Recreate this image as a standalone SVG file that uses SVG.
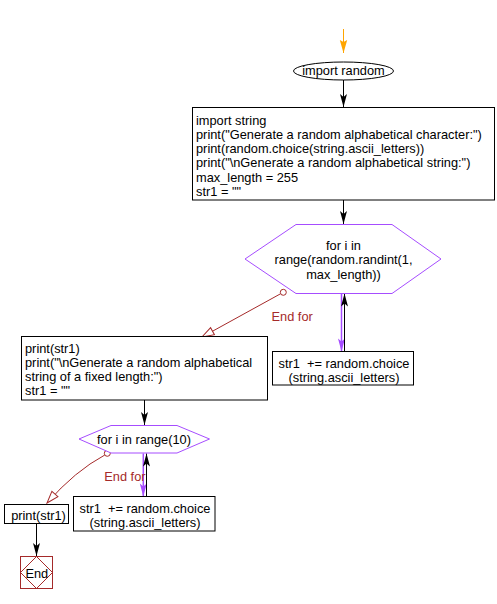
<svg xmlns="http://www.w3.org/2000/svg" width="497" height="604" viewBox="0 0 497 604">
<style>
text{font-family:"Liberation Sans",Arial,sans-serif;font-size:12.8px;fill:#000;white-space:pre}
.c{text-anchor:middle}
.box{fill:#fff;stroke:#000;stroke-width:1}
.hex{fill:#fff;stroke:#a64dff;stroke-width:1}
.ln{fill:none;stroke:#000;stroke-width:1}
.pl{fill:none;stroke:#a64dff;stroke-width:1.5}
.rl{fill:none;stroke:#a52a2a;stroke-width:1}
.lbl{fill:#a52a2a}
</style>
<defs>
<marker id="ab" markerUnits="userSpaceOnUse" markerWidth="16" markerHeight="12" refX="14" refY="6" orient="auto"><path d="M14,6 L1,2.5 L4,6 L1,9.5 Z" fill="#000"/></marker>
<marker id="ap" markerUnits="userSpaceOnUse" markerWidth="16" markerHeight="12" refX="14" refY="6" orient="auto"><path d="M14,6 L1,2.5 L4,6 L1,9.5 Z" fill="#a64dff"/></marker>
<marker id="ao" markerUnits="userSpaceOnUse" markerWidth="16" markerHeight="12" refX="14" refY="6" orient="auto"><path d="M14,6 L1,2.3 L3,6 L1,9.7 Z" fill="#ffa500"/></marker>
<marker id="ar" markerUnits="userSpaceOnUse" markerWidth="16" markerHeight="12" refX="14" refY="6" orient="auto"><path d="M14,6 L2,2 L2,10 Z" fill="#fff" stroke="#a52a2a" stroke-width="1"/></marker>
</defs>
<g id="connectors">
<line x1="343.5" y1="29" x2="343.5" y2="53" stroke="#ffa500" stroke-width="1" marker-end="url(#ao)"/>
<line class="ln" x1="343.5" y1="80" x2="343.5" y2="107" marker-end="url(#ab)"/>
<line class="ln" x1="343.5" y1="200" x2="343.5" y2="224" marker-end="url(#ab)"/>
<line class="pl" x1="341.5" y1="294" x2="341.5" y2="351.5" marker-end="url(#ap)"/>
<line class="ln" x1="344.5" y1="351.5" x2="344.5" y2="293.5" marker-end="url(#ab)"/>
<line class="rl" x1="280.5" y1="293.8" x2="202" y2="337" marker-end="url(#ar)"/>
<circle cx="283.3" cy="292.3" r="3" fill="#fff" stroke="#a52a2a" stroke-width="1"/>
<text class="lbl" x="271.5" y="320.5">End for</text>
<line class="ln" x1="144.5" y1="400" x2="144.5" y2="425" marker-end="url(#ab)"/>
<line class="pl" x1="143.3" y1="453.5" x2="143.3" y2="496.5" marker-end="url(#ap)"/>
<line class="ln" x1="146.5" y1="496.5" x2="146.5" y2="453.5" marker-end="url(#ab)"/>
<path class="rl" d="M104.8,455 Q75,471 47,503" marker-end="url(#ar)"/>
<circle cx="107.3" cy="453.3" r="3" fill="#fff" stroke="#a52a2a" stroke-width="1"/>
<text class="lbl" x="104.3" y="481">End for</text>
<line class="ln" x1="36.5" y1="523.5" x2="36.5" y2="556" marker-end="url(#ab)"/>
</g>
<g id="start">
<ellipse cx="343.5" cy="71" rx="50" ry="9" fill="#fff" stroke="#000" stroke-width="1"/>
<text class="c" x="343.5" y="75.3">import random</text>
</g>
<g id="init">
<rect class="box" x="192.5" y="107.5" width="302" height="92.5"/>
<text x="196" y="124.5">import string</text>
<text x="196" y="138.8">print("Generate a random alphabetical character:")</text>
<text x="196" y="153.1">print(random.choice(string.ascii_letters))</text>
<text x="196" y="167.4">print("\nGenerate a random alphabetical string:")</text>
<text x="196" y="181.6">max_length = 255</text>
<text x="196" y="195.8">str1 = ""</text>
</g>
<g id="loop1">
<polygon class="hex" points="245,259 296,224.5 392,224.5 441,259 392,293.5 296,293.5"/>
<text class="c" x="343.5" y="249.5">for i in</text>
<text class="c" x="343.5" y="264.3">range(random.randint(1,</text>
<text class="c" x="343.5" y="279">max_length))</text>
</g>
<g id="body1">
<rect class="box" x="272.5" y="351.5" width="141" height="33.5"/>
<text class="c" x="344" y="367.7">str1  += random.choice</text>
<text class="c" x="344" y="381.7">(string.ascii_letters)</text>
</g>
<g id="print1">
<rect class="box" x="21.5" y="336.5" width="246" height="63.5"/>
<text x="25" y="353.3">print(str1)</text>
<text x="25" y="367.3">print("\nGenerate a random alphabetical</text>
<text x="25" y="381.3">string of a fixed length:")</text>
<text x="25" y="395.3">str1 = ""</text>
</g>
<g id="loop2">
<polygon class="hex" points="79,439 111,425.5 177,425.5 209.5,439 177,453 111,453"/>
<text class="c" x="144" y="444">for i in range(10)</text>
</g>
<g id="body2">
<rect class="box" x="73.5" y="496.5" width="141.5" height="34.5"/>
<text class="c" x="145" y="512.7">str1  += random.choice</text>
<text class="c" x="145" y="527">(string.ascii_letters)</text>
</g>
<g id="print2">
<rect class="box" x="4.5" y="504.5" width="64" height="19"/>
<text class="c" x="38.5" y="519.8">print(str1)</text>
</g>
<g id="end">
<rect x="20.5" y="556.5" width="32" height="32" fill="#fff" stroke="#a52a2a" stroke-width="1"/>
<polygon points="36.5,556.5 52.5,572.5 36.5,588.5 20.5,572.5" fill="none" stroke="#a52a2a" stroke-width="1"/>
<text class="c" x="36.8" y="577.5">End</text>
</g>
</svg>
